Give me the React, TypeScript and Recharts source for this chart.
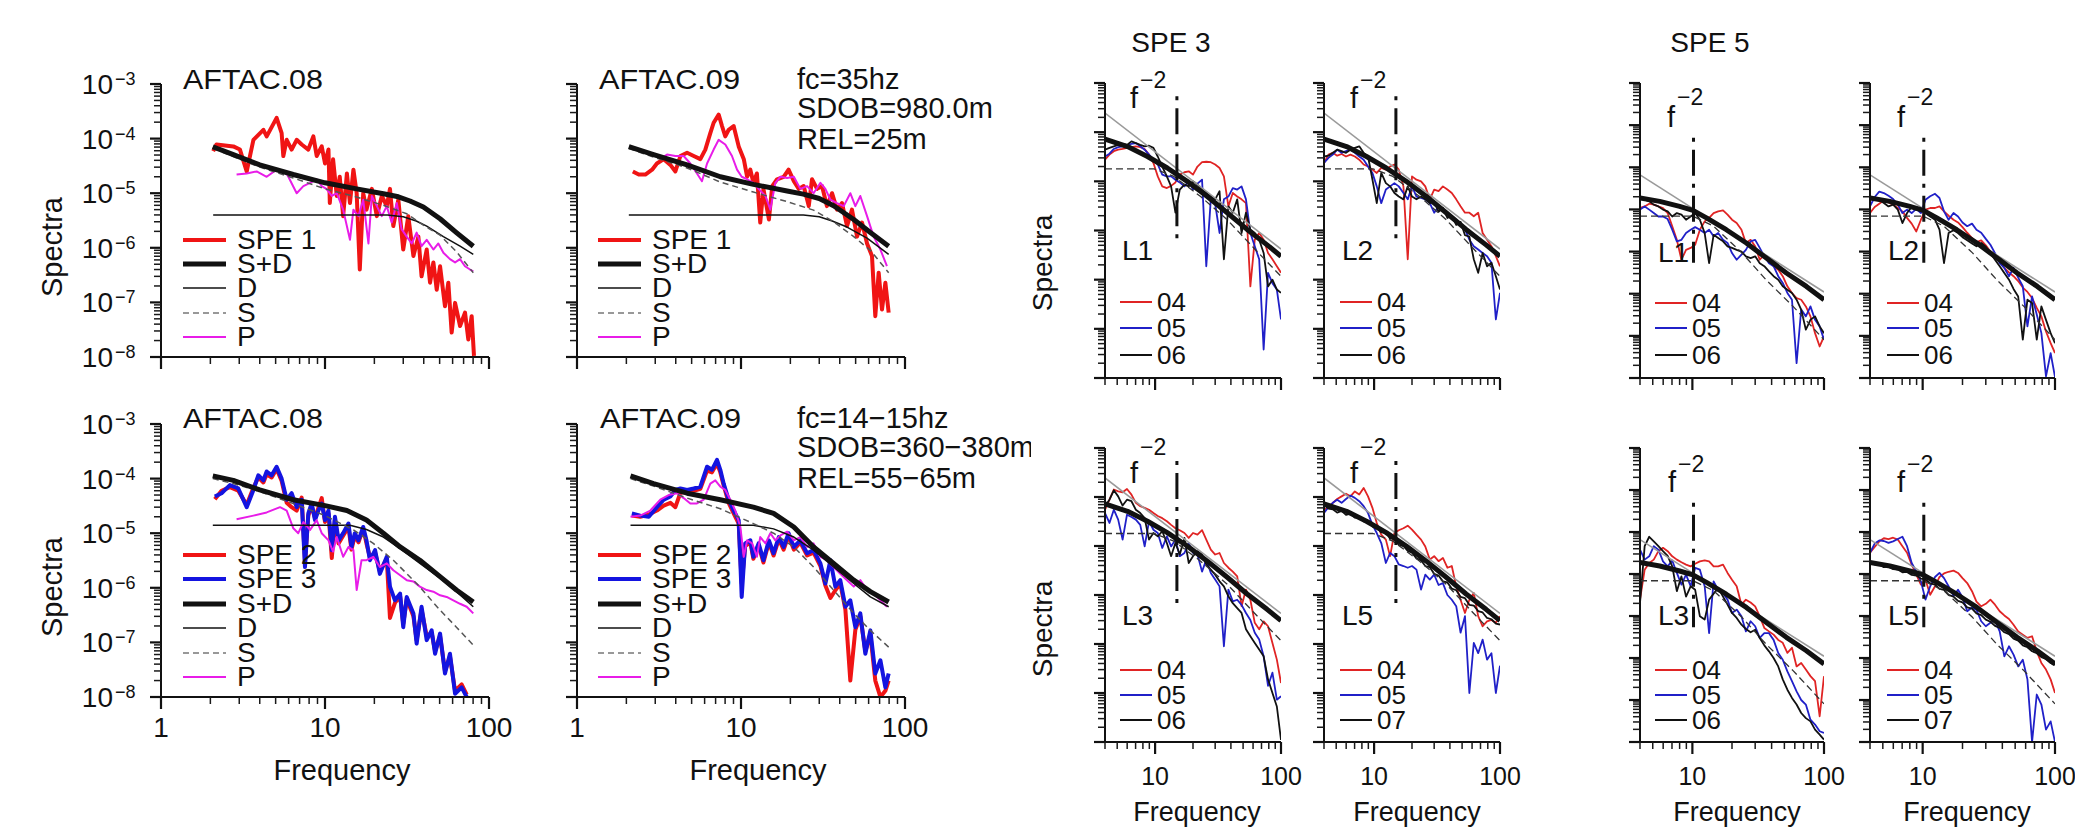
import React from 'react';
import { LineChart, Line, XAxis, YAxis, ReferenceLine } from 'recharts';

type Pt = [number, number];
const FONT = "'Liberation Sans', Arial, Helvetica, sans-serif";

// ---------------- axis ticks ----------------
const LEFT_X_TICKS = [1, 10, 100];
const RIGHT_X_TICKS = [10, 100];
const LEFT_X_MINOR = [2, 3, 4, 5, 6, 7, 8, 9, 20, 30, 40, 50, 60, 70, 80, 90];
const RIGHT_X_MINOR = [4, 5, 6, 7, 8, 9, 20, 30, 40, 50, 60, 70, 80, 90];
const LEFT_Y_DECADES = [1e-8, 1e-7, 1e-6, 1e-5, 1e-4, 1e-3];
const SPE3_Y_DECADES = [1e-9, 1e-8, 1e-7, 1e-6, 1e-5, 1e-4, 1e-3];
const SPE5_Y_DECADES = [1e-10, 1e-9, 1e-8, 1e-7, 1e-6, 1e-5, 1e-4, 1e-3];
const MINOR_MULT = [2, 3, 4, 5, 6, 7, 8, 9];

// ---------------- left panels: SPE 1 (AFTAC.08) ----------------
const A_SPE1: Pt[] = [[2.08,5.9e-5],[2.18,7.8e-5],[2.76,7.2e-5],[3.03,6.3e-5],[3.33,2.5e-5],[3.66,9.5e-5],[4.21,1.45e-4],[4.41,1.1e-4],[5.07,2.4e-4],[5.44,1.26e-4],[5.57,4.8e-5],[5.84,9.5e-5],[6.26,6.3e-5],[6.72,9.5e-5],[7.21,7.8e-5],[7.91,6.3e-5],[8.49,1.1e-4],[8.9,4.8e-5],[9.55,7.2e-5],[10.0,3.5e-5],[10.5,6.3e-5],[10.7,6.6e-6],[11.2,4.2e-5],[11.8,8.9e-6],[12.3,2.0e-5],[12.9,3.8e-6],[13.6,2.3e-5],[14.2,6.6e-6],[14.9,2.7e-5],[15.6,1.0e-5],[16.3,4.0e-7],[17.1,1.0e-5],[17.9,5.0e-6],[19.3,1.2e-5],[20.7,3.8e-6],[22.2,8.9e-6],[23.8,5.8e-6],[24.9,1.2e-5],[26.1,2.5e-6],[28.0,7.6e-6],[30.0,9.3e-7],[32.2,3.8e-6],[34.6,7.1e-7],[37.1,1.6e-6],[38.8,3.0e-7],[41.7,9.3e-7],[43.7,2.3e-7],[45.8,5.4e-7],[48.0,1.7e-7],[50.3,4.6e-7],[53.9,8.5e-8],[56.5,2.3e-7],[59.2,2.8e-8],[62.1,9.8e-8],[66.6,3.7e-8],[71.4,6.5e-8],[74.8,2.1e-8],[78.4,5.6e-8],[81.0,1.05e-8]];
const A_P: Pt[] = [[2.89,2.2e-5],[3.33,2.3e-5],[3.83,2.5e-5],[4.41,2.0e-5],[5.07,2.7e-5],[5.84,2.3e-5],[6.72,1.0e-5],[7.38,1.35e-5],[8.11,1.55e-5],[8.9,1.8e-5],[9.55,1.35e-5],[10.2,1.2e-5],[11.0,8.9e-6],[11.8,1.0e-5],[12.9,5.0e-6],[14.2,1.4e-6],[14.9,5.0e-6],[16.0,3.8e-6],[17.1,7.6e-6],[18.4,1.2e-6],[19.3,8.9e-6],[20.7,5.8e-6],[22.2,3.8e-6],[23.8,5.8e-6],[25.5,2.9e-6],[27.4,6.6e-6],[29.3,2.2e-6],[31.5,1.6e-6],[33.8,1.2e-6],[36.2,1.9e-6],[38.8,1.07e-6],[41.7,1.4e-6],[45.8,9.3e-7],[49.1,1.2e-6],[52.7,8.1e-7],[57.8,6.2e-7],[62.1,5.4e-7],[66.6,6.2e-7],[71.4,4.6e-7],[76.6,4.0e-7],[80.2,3.7e-7]];
const A_SD: Pt[] = [[2.07,7.1e-5],[2.76,5.1e-5],[4.0,3.3e-5],[6.4,2.2e-5],[10,1.55e-5],[15.6,1.2e-5],[22.7,9.8e-6],[28.0,8.6e-6],[33.0,7.2e-6],[39.8,5.6e-6],[50.3,3.4e-6],[63.3,1.9e-6],[80.2,1.07e-6]];
const A_D: Pt[] = [[2.08,4.0e-6],[24.0,4.0e-6],[30.0,3.7e-6],[36.0,3.1e-6],[41.7,2.5e-6],[52.7,1.6e-6],[66.6,1.07e-6],[80.2,7.6e-7]];
const A_S: Pt[] = [[2.07,6.6e-5],[2.76,4.7e-5],[4.0,3.0e-5],[6.4,1.9e-5],[10,1.2e-5],[15.6,8.5e-6],[22.7,6.0e-6],[31.5,4.2e-6],[39.8,2.6e-6],[50.3,1.7e-6],[63.3,8.5e-7],[80.2,3.5e-7]];

// ---------------- left panels: SPE 1 (AFTAC.09) ----------------
const B_SPE1: Pt[] = [[2.19,2.5e-5],[2.38,2.2e-5],[2.61,2.2e-5],[2.87,2.7e-5],[3.07,3.5e-5],[3.38,4.2e-5],[3.71,3.3e-5],[3.98,2.5e-5],[4.27,4.8e-5],[4.69,5.5e-5],[5.15,4.8e-5],[5.65,4.2e-5],[6.06,6.3e-5],[6.5,1.26e-4],[6.81,1.95e-4],[7.31,2.75e-4],[7.66,1.7e-4],[8.02,1.1e-4],[8.41,1.45e-4],[9.02,1.7e-4],[9.68,7.2e-5],[10.4,4.2e-5],[10.9,2.0e-5],[11.4,2.7e-5],[11.9,1.55e-5],[12.5,2.3e-5],[13.1,2.9e-6],[13.7,1.2e-5],[14.8,3.3e-6],[15.5,1.35e-5],[16.6,1.8e-5],[18.2,2.0e-5],[19.5,2.7e-5],[21.0,1.66e-5],[22.5,1.2e-5],[24.1,1.35e-5],[25.9,5.8e-6],[27.1,1.8e-5],[29.1,1.2e-5],[31.2,1.35e-5],[33.4,5.8e-6],[35.9,1.0e-5],[38.5,5.0e-6],[41.3,6.6e-6],[44.3,2.5e-6],[47.5,5.0e-6],[51.0,1.6e-6],[54.7,2.9e-6],[58.7,1.2e-6],[62.9,7.1e-7],[65.9,5.6e-8],[69.1,3.5e-7],[72.4,7.4e-8],[75.9,2.3e-7],[79.5,6.5e-8]];
const B_P: Pt[] = [[3.22,4.2e-5],[3.54,5.1e-5],[3.98,4.8e-5],[4.47,4.8e-5],[4.91,3.5e-5],[5.39,2.3e-5],[5.78,1.66e-5],[6.21,3.5e-5],[6.81,6.3e-5],[7.31,9.5e-5],[8.02,7.8e-5],[8.81,4.8e-5],[9.46,2.7e-5],[10.1,2.0e-5],[10.9,1.8e-5],[11.9,1.55e-5],[12.8,1.2e-5],[14.1,8.9e-6],[15.1,5.0e-6],[16.2,1.55e-5],[17.4,2.0e-5],[19.1,1.9e-5],[21.0,2.0e-5],[23.0,1.2e-5],[25.3,1.35e-5],[27.7,1.0e-5],[30.5,1.55e-5],[32.7,1.2e-5],[35.1,7.6e-6],[38.5,6.6e-6],[42.3,5.8e-6],[46.4,1.0e-5],[49.8,5.8e-6],[53.4,8.9e-6],[58.7,3.8e-6],[64.4,1.6e-6],[70.8,9.3e-7],[77.6,4.6e-7]];
const B_SD: Pt[] = [[2.07,7.1e-5],[2.93,5.1e-5],[4.69,3.3e-5],[7.48,2.0e-5],[11.9,1.45e-5],[19.1,1.1e-5],[24.0,9.6e-6],[30.0,8.0e-6],[36.7,5.9e-6],[48.7,3.3e-6],[61.5,1.9e-6],[79.5,1.07e-6]];
const B_D: Pt[] = [[2.07,4.0e-6],[24.0,4.0e-6],[30.0,3.7e-6],[36.0,3.1e-6],[44.3,2.4e-6],[58.7,1.5e-6],[79.5,7.6e-7]];
const B_S: Pt[] = [[2.07,6.6e-5],[2.93,4.6e-5],[4.69,2.9e-5],[7.48,1.6e-5],[11.9,1.05e-5],[19.1,7.0e-6],[27.7,4.9e-6],[36.7,3.0e-6],[48.7,1.6e-6],[61.5,9.0e-7],[79.5,3.5e-7]];

// ---------------- left panels: SPE 2 / SPE 3 (AFTAC.08) ----------------
const C_SPE2: Pt[] = [[2.13,4.2e-5],[2.34,6.0e-5],[2.63,7.0e-5],[2.96,6.0e-5],[3.33,3.3e-5],[3.66,6.8e-5],[3.92,1.05e-4],[4.21,8.5e-5],[4.41,1.2e-4],[4.73,1.05e-4],[5.07,1.5e-4],[5.44,9.0e-5],[5.84,3.6e-5],[6.26,3.0e-5],[6.72,2.6e-5],[7.21,4.5e-5],[7.55,3.0e-6],[7.91,2.1e-5],[8.29,3.2e-5],[8.69,1.9e-5],[9.11,2.9e-5],[9.55,4.4e-5],[10.0,1.6e-5],[10.5,2.3e-5],[11.0,3.5e-6],[11.5,1.8e-5],[12.1,6.5e-6],[12.9,9.0e-6],[13.9,1.3e-5],[14.5,5.0e-6],[15.2,9.0e-6],[16.0,6.8e-6],[17.1,1.2e-5],[17.9,6.5e-6],[18.8,3.6e-6],[20.2,4.4e-6],[21.6,2.0e-6],[23.8,3.4e-6],[24.9,2.8e-7],[26.7,5.3e-7],[28.7,7.0e-7],[30.0,2.2e-7],[31.5,6.2e-7],[34.6,3.0e-7],[36.2,1.1e-7],[38.8,4.0e-7],[41.7,1.3e-7],[44.7,1.5e-7],[46.9,7.0e-8],[50.3,1.3e-7],[53.9,3.0e-8],[57.8,5.5e-8],[62.1,1.3e-8],[68.1,1.7e-8],[73.1,1.1e-8]];
const C_SPE3: Pt[] = [[2.13,4.7e-5],[2.34,5.4e-5],[2.63,7.6e-5],[2.96,6.6e-5],[3.33,3.0e-5],[3.66,6.2e-5],[3.92,1.15e-4],[4.21,9.3e-5],[4.41,1.35e-4],[4.73,1.15e-4],[5.07,1.65e-4],[5.44,1.0e-4],[5.84,4.1e-5],[6.26,5.4e-5],[6.72,3.0e-5],[7.21,4.1e-5],[7.55,2.4e-6],[7.91,2.3e-5],[8.29,3.5e-5],[8.69,1.74e-5],[9.11,2.6e-5],[9.55,3.5e-5],[10.0,1.74e-5],[10.5,2.6e-5],[11.0,4.9e-6],[11.5,2.0e-5],[12.1,7.4e-6],[12.9,1.0e-5],[13.9,1.5e-5],[14.5,5.6e-6],[15.2,1.0e-5],[16.0,7.4e-6],[17.1,1.3e-5],[17.9,7.4e-6],[18.8,3.2e-6],[20.2,4.9e-6],[21.6,1.8e-6],[23.8,3.7e-6],[24.9,1.05e-6],[26.7,5.9e-7],[28.7,7.8e-7],[30.0,1.9e-7],[31.5,6.8e-7],[34.6,3.4e-7],[36.2,9.5e-8],[38.8,4.5e-7],[41.7,1.1e-7],[44.7,1.66e-7],[46.9,6.2e-8],[50.3,1.45e-7],[53.9,2.7e-8],[57.8,6.2e-8],[62.1,1.15e-8],[68.1,1.5e-8],[73.1,1.0e-8]];
const C_P: Pt[] = [[2.89,1.8e-5],[3.66,2.1e-5],[4.41,2.4e-5],[5.32,3.0e-5],[5.84,2.6e-5],[6.41,1.23e-5],[6.87,1.0e-5],[7.38,1.6e-5],[8.11,1.15e-5],[8.9,1.74e-5],[9.55,1.0e-5],[10.5,7.4e-6],[11.2,4.6e-6],[11.8,8.5e-6],[12.9,3.7e-6],[13.9,5.6e-6],[14.9,4.9e-6],[15.6,9.1e-7],[16.7,3.2e-6],[17.9,3.2e-6],[19.7,3.7e-6],[21.6,2.4e-6],[23.8,2.8e-6],[26.1,2.1e-6],[28.7,1.7e-6],[31.5,1.38e-6],[34.6,1.3e-6],[37.9,1.05e-6],[41.7,9.1e-7],[45.8,8.5e-7],[50.3,7.3e-7],[55.2,6.8e-7],[60.6,5.9e-7],[66.6,5.1e-7],[73.1,4.5e-7],[80.2,3.4e-7]];
const C_SD: Pt[] = [[2.07,1.12e-4],[2.76,9.3e-5],[4.0,6.2e-5],[6.4,4.1e-5],[10,3.2e-5],[13.6,2.6e-5],[17.9,1.74e-5],[22.7,1.0e-5],[28.7,5.6e-6],[37.9,3.2e-6],[50.3,1.6e-6],[63.3,9.1e-7],[80.2,5.5e-7]];
const C_D: Pt[] = [[2.07,1.4e-5],[14.2,1.4e-5],[17.9,1.17e-5],[22.7,8.5e-6],[28.7,5.2e-6],[37.9,2.8e-6],[50.3,1.5e-6],[63.3,8.5e-7],[80.2,4.5e-7]];
const C_S: Pt[] = [[2.07,1.0e-4],[2.76,8.1e-5],[4.0,5.8e-5],[6.4,3.5e-5],[10,2.1e-5],[14.9,1.15e-5],[19.7,6.5e-6],[26.1,3.2e-6],[36.2,1.2e-6],[50.3,3.9e-7],[63.3,1.9e-7],[80.2,8.9e-8]];

// ---------------- left panels: SPE 2 / SPE 3 (AFTAC.09) ----------------
const D_SPE2: Pt[] = [[2.16,2.1e-5],[2.43,2.0e-5],[2.74,2.2e-5],[3.07,2.6e-5],[3.38,3.2e-5],[3.71,3.6e-5],[3.98,3.0e-5],[4.27,5.5e-5],[4.69,5.8e-5],[5.15,6.0e-5],[5.65,6.5e-5],[6.21,1.4e-4],[6.65,1.3e-4],[7.14,1.9e-4],[7.48,1.3e-4],[7.84,7.5e-5],[8.41,3.6e-5],[9.02,2.3e-5],[9.68,1.5e-5],[10.1,1.2e-6],[10.6,5.8e-6],[11.4,6.8e-6],[11.9,3.4e-6],[12.8,6.0e-6],[13.7,2.9e-6],[14.8,6.8e-6],[15.8,3.9e-6],[17.0,7.8e-6],[18.2,5.0e-6],[19.5,9.0e-6],[21.0,5.0e-6],[23.0,6.8e-6],[25.3,3.9e-6],[27.7,4.4e-6],[30.5,2.5e-6],[32.7,1.1e-6],[35.1,6.5e-7],[37.6,9.0e-7],[40.3,1.2e-6],[43.3,4.0e-7],[46.4,2.0e-8],[49.8,1.7e-7],[53.4,3.0e-7],[57.3,7.0e-8],[61.5,1.4e-7],[65.9,2.0e-8],[70.8,1.0e-8],[75.9,1.3e-8],[79.5,2.0e-8]];
const D_SPE3: Pt[] = [[2.16,2.3e-5],[2.43,2.1e-5],[2.74,2.0e-5],[3.07,3.0e-5],[3.38,4.1e-5],[3.71,4.7e-5],[3.98,6.2e-5],[4.27,6.6e-5],[4.69,6.2e-5],[5.15,6.6e-5],[5.65,7.1e-5],[6.21,1.65e-4],[6.65,1.45e-4],[7.14,2.2e-4],[7.48,1.45e-4],[7.84,8.1e-5],[8.41,4.1e-5],[9.02,2.6e-5],[9.68,1.74e-5],[10.1,6.8e-7],[10.6,6.5e-6],[11.4,7.4e-6],[11.9,3.7e-6],[12.8,6.5e-6],[13.7,3.2e-6],[14.8,7.4e-6],[15.8,4.3e-6],[17.0,8.5e-6],[18.2,5.6e-6],[19.5,1.0e-5],[21.0,5.6e-6],[23.0,7.4e-6],[25.3,4.3e-6],[27.7,4.9e-6],[30.5,2.8e-6],[32.7,1.2e-6],[35.1,3.2e-6],[37.6,1.05e-6],[40.3,1.38e-6],[43.3,4.5e-7],[46.4,5.9e-7],[49.8,1.9e-7],[53.4,3.4e-7],[57.3,6.2e-8],[61.5,1.66e-7],[65.9,2.7e-8],[70.8,4.7e-8],[75.9,1.5e-8],[79.5,2.7e-8]];
const D_P: Pt[] = [[2.12,2.0e-5],[2.43,2.1e-5],[2.8,2.6e-5],[3.22,4.1e-5],[3.62,5.0e-5],[4.07,5.4e-5],[4.47,4.4e-5],[4.91,3.5e-5],[5.39,3.5e-5],[5.92,4.1e-5],[6.5,8.1e-5],[6.97,9.3e-5],[7.48,7.1e-5],[8.02,6.2e-5],[8.61,4.1e-5],[9.23,2.6e-5],[9.91,1.3e-5],[10.4,3.7e-6],[10.9,7.4e-6],[11.7,6.5e-6],[12.5,3.7e-6],[13.1,8.5e-6],[14.1,6.5e-6],[15.1,1.0e-5],[16.2,7.4e-6],[17.4,9.1e-6],[19.1,1.07e-5],[21.0,7.4e-6],[23.0,8.5e-6],[25.3,5.6e-6],[27.7,6.5e-6],[30.5,3.7e-6],[33.4,3.2e-6],[36.7,2.4e-6],[40.3,1.8e-6],[44.3,1.38e-6],[48.7,1.05e-6],[53.4,1.38e-6],[58.7,9.1e-7],[64.4,7.8e-7],[70.8,5.9e-7],[77.6,4.5e-7]];
const D_SD: Pt[] = [[2.12,1.12e-4],[2.93,8.1e-5],[4.69,5.4e-5],[7.48,4.1e-5],[11.9,3.0e-5],[15.8,2.3e-5],[21.0,1.3e-5],[27.7,5.6e-6],[36.7,2.8e-6],[48.7,1.38e-6],[61.5,8.5e-7],[79.5,5.5e-7]];
const D_D: Pt[] = [[2.12,1.4e-5],[11.9,1.4e-5],[15.8,1.2e-5],[21.0,8.5e-6],[27.7,4.9e-6],[36.7,2.4e-6],[48.7,1.2e-6],[61.5,6.8e-7],[79.5,4.5e-7]];
const D_S: Pt[] = [[2.12,1.0e-4],[2.93,7.3e-5],[4.69,4.4e-5],[7.48,2.8e-5],[11.9,1.5e-5],[15.8,1.0e-5],[21.0,5.6e-6],[27.7,2.4e-6],[36.7,9.1e-7],[48.7,3.4e-7],[61.5,1.66e-7],[79.5,8.2e-8]];

// ---------------- right panels: station spectra (frequency grid shared) ----------------
const GRID_F = [4.0,4.34,4.7,5.09,5.52,5.98,6.49,7.03,7.62,8.26,8.95,9.7,10.5,11.4,12.4,13.4,14.5,15.7,17.1,18.5,20.0,21.7,23.6,25.5,27.7,30.0,32.5,35.2,38.2,41.4,44.9,48.6,52.7,57.1,61.9,67.1,72.8,78.9,85.5,92.7,100];

// SPE 3, L1
const E_04 = [2.76e-5,3.5e-5,4.1e-5,4.4e-5,4.55e-5,4.8e-5,4.95e-5,5.15e-5,4.95e-5,4.55e-5,3.5e-5,2.36e-5,1.26e-5,7.9e-6,7.3e-6,8.1e-6,9.5e-6,1.37e-5,1.53e-5,1.6e-5,1.37e-5,2.0e-5,2.45e-5,2.5e-5,2.45e-5,2.2e-5,1.87e-5,1.26e-5,3.1e-6,5.8e-6,4.9e-6,4.3e-6,3.6e-6,7.3e-8,6.5e-7,8.9e-7,6.5e-7,3.5e-7,2.6e-7,1.87e-7,1.38e-7];
const E_05 = [3.2e-5,3.65e-5,4.55e-5,4.95e-5,5.15e-5,5.3e-5,5.8e-5,6.0e-5,5.15e-5,4.4e-5,3.5e-5,2.76e-5,2.2e-5,1.37e-5,1.26e-5,1.26e-5,1.08e-5,9.5e-6,7.9e-6,1.0e-5,6.8e-6,9.0e-6,1.08e-5,1.87e-7,4.3e-6,3.5e-6,8.9e-7,4.3e-6,4.9e-6,7.3e-6,6.8e-6,7.9e-6,4.3e-6,8.9e-7,4.8e-7,2.6e-7,3.8e-9,1.38e-7,8.5e-8,6.3e-8,1.55e-8];
const E_06 = [4.4e-5,4.8e-5,5.15e-5,5.5e-5,5.8e-5,5.5e-5,6.5e-5,6.0e-5,5.5e-5,5.15e-5,5.3e-5,4.8e-5,3.2e-5,2.0e-5,1.26e-5,7.9e-6,2.3e-6,6.8e-6,8.6e-6,7.9e-6,1.0e-5,8.6e-6,6.8e-6,5.8e-6,4.9e-6,4.3e-6,6.3e-6,2.6e-7,3.1e-6,2.3e-6,4.3e-6,8.9e-7,2.3e-6,1.05e-6,8.9e-7,6.5e-7,3.5e-7,7.3e-8,1.0e-7,6.3e-8,5.4e-8];
// SPE 3, L2
const F_04 = [2.36e-5,3.5e-5,3.8e-5,3.33e-5,3.6e-5,3.2e-5,3.5e-5,3.2e-5,2.76e-5,2.2e-5,2.0e-5,1.73e-5,1.48e-5,1.87e-5,1.73e-5,2.0e-5,2.2e-5,1.73e-5,7.9e-6,2.6e-7,1.26e-5,1.08e-5,1.0e-5,7.9e-6,4.3e-6,6.8e-6,6.3e-6,7.9e-6,6.8e-6,5.8e-6,4.3e-6,3.1e-6,2.3e-6,2.3e-6,1.95e-6,2.3e-6,8.9e-7,6.5e-7,4.8e-7,3.0e-7,1.87e-7];
const F_05 = [2.36e-5,3.0e-5,3.5e-5,4.4e-5,3.8e-5,4.1e-5,4.4e-5,3.8e-5,3.2e-5,2.76e-5,2.0e-5,1.48e-5,7.9e-6,3.6e-6,6.8e-6,7.9e-6,9.2e-6,7.9e-6,5.8e-6,4.3e-6,7.9e-6,4.9e-6,4.6e-6,4.3e-6,3.6e-6,2.3e-6,3.1e-6,2.65e-6,2.3e-6,1.95e-6,1.66e-6,1.4e-6,1.05e-6,6.5e-7,4.8e-7,4.1e-7,3.5e-7,3.0e-7,2.2e-7,1.55e-8,5.4e-8];
const F_06 = [3.2e-5,3.33e-5,3.8e-5,4.4e-5,4.1e-5,3.8e-5,4.4e-5,4.8e-5,5.15e-5,3.8e-5,3.2e-5,1.08e-5,3.6e-6,1.48e-5,9.2e-6,7.9e-6,5.8e-6,4.9e-6,4.3e-6,7.9e-6,4.9e-6,4.3e-6,4.9e-6,4.3e-6,3.6e-6,3.9e-6,2.4e-6,2.9e-6,1.8e-6,2.0e-6,1.3e-6,1.5e-6,8.0e-7,7.5e-7,2.6e-7,1.38e-7,3.5e-7,1.87e-7,2.2e-7,1.17e-7,6.3e-8];
// SPE 3, L3
const I_04 = [5.5e-5,8.8e-5,1.42e-4,1.3e-4,1.25e-4,1.46e-4,1.12e-4,7.6e-5,6.5e-5,6.0e-5,5.5e-5,4.7e-5,4.1e-5,3.7e-5,3.2e-5,2.7e-5,2.3e-5,2.1e-5,1.84e-5,1.46e-5,1.84e-5,1.7e-5,2.1e-5,1.35e-5,8.4e-6,6.7e-6,7.2e-6,4.5e-6,3.6e-6,3.0e-6,2.4e-6,5.9e-7,1.29e-6,8.0e-7,2.7e-7,2.0e-7,2.9e-7,2.3e-7,1.05e-7,4.8e-8,1.6e-8];
const I_05 = [4.7e-5,2.95e-5,5.5e-5,3.45e-5,1.35e-5,4.35e-5,3.9e-5,3.45e-5,2.7e-5,9.8e-6,3.2e-5,2.15e-5,1.84e-5,9.1e-6,1.57e-5,9.8e-6,1.35e-5,6.2e-6,7.2e-6,1.15e-5,7.2e-6,6.7e-6,3.0e-6,5.3e-6,2.8e-6,2.06e-6,1.5e-6,9.0e-8,1.29e-6,7.4e-7,8.0e-7,6.3e-7,4.3e-7,3.1e-7,1.7e-7,1.23e-7,5.6e-8,1.4e-8,2.6e-8,7.3e-9,8.6e-9];
const I_06 = [6.5e-5,8.8e-5,1.37e-4,1.03e-4,6.7e-5,8.8e-5,8.2e-5,5.5e-5,4.7e-5,3.7e-5,1.35e-5,1.84e-5,1.57e-5,2.0e-5,1.15e-5,6.2e-6,1.15e-5,6.7e-6,1.46e-5,4.5e-6,6.2e-6,7.8e-6,6.7e-6,4.2e-6,3.3e-6,2.6e-6,1.9e-6,1.5e-6,9.4e-7,6.8e-7,5.4e-7,4.3e-7,2.0e-7,1.44e-7,1.05e-7,7.7e-8,5.6e-8,1.9e-8,1.0e-8,5.3e-9,1.1e-9];
// SPE 3, L5
const J_04 = [5.5e-5,6.2e-5,7.6e-5,9.1e-5,1.03e-4,1.17e-4,1.03e-4,1.3e-4,1.12e-4,1.53e-4,1.03e-4,6.0e-5,2.95e-5,1.7e-5,1.35e-5,6.2e-6,1.84e-5,2.1e-5,2.3e-5,2.6e-5,2.15e-5,1.7e-5,1.35e-5,9.8e-6,5.3e-6,6.2e-6,4.9e-6,5.7e-6,3.6e-6,3.9e-6,1.5e-6,8.0e-7,4.3e-7,8.0e-7,1.1e-6,3.7e-7,2.3e-7,2.9e-7,3.1e-7,2.7e-7,3.7e-7];
const J_05 = [4.7e-5,6.2e-5,7.6e-5,8.8e-5,7.6e-5,9.1e-5,1.07e-4,9.6e-5,8.2e-5,6.5e-5,4.7e-5,2.7e-5,1.84e-5,1.15e-5,4.5e-6,7.2e-6,6.2e-6,4.2e-6,3.9e-6,3.6e-6,3.9e-6,3.3e-6,1.29e-6,2.6e-6,2.06e-6,2.6e-6,1.6e-6,1.75e-6,1.0e-6,8.0e-7,5.9e-7,1.7e-7,3.7e-7,1.0e-8,1.05e-7,6.5e-8,1.23e-7,4.8e-8,6.5e-8,1.0e-8,3.6e-8];
const J_07 = [6.8e-5,5.8e-5,5.6e-5,4.8e-5,5.2e-5,4.3e-5,4.6e-5,3.8e-5,3.9e-5,3.2e-5,3.1e-5,2.5e-5,2.4e-5,1.9e-5,1.9e-5,1.4e-5,1.45e-5,1.05e-5,1.0e-5,7.9e-6,7.3e-6,5.6e-6,5.1e-6,3.9e-6,3.7e-6,2.7e-6,2.5e-6,1.9e-6,1.8e-6,1.35e-6,1.25e-6,9.2e-7,8.6e-7,6.3e-7,6.1e-7,4.7e-7,4.4e-7,3.4e-7,3.2e-7,2.6e-7,2.5e-7];
// SPE 5, L1
const G_04 = [1.08e-6,1.18e-6,1.37e-6,1.3e-6,1.18e-6,1.08e-6,8.2e-7,4.0e-7,1.9e-7,6.4e-8,1.1e-7,1.22e-7,1.45e-7,3.3e-7,5.2e-7,6.3e-7,8.2e-7,9.0e-7,9.5e-7,7.5e-7,5.7e-7,4.75e-7,3.3e-7,1.6e-7,1.9e-7,1.33e-7,6.4e-8,8.5e-8,6.4e-8,4.5e-8,3.7e-8,2.6e-8,1.5e-8,1.04e-8,7.9e-9,7.2e-9,5.0e-9,2.9e-9,1.16e-9,5.6e-10,9.7e-10];
const G_05 = [9.9e-7,1.18e-6,9.9e-7,8.2e-7,6.8e-7,6.8e-7,5.9e-7,3.3e-7,1.75e-7,1.9e-7,2.75e-7,3.3e-7,3.8e-7,3.3e-7,2.75e-7,3.3e-7,2.3e-7,2.75e-7,1.9e-7,1.6e-7,9.2e-8,6.4e-8,8.5e-8,1.1e-7,1.75e-7,1.9e-7,1.22e-7,7.7e-8,5.3e-8,4.5e-8,2.6e-8,1.8e-8,1.04e-8,7.2e-9,2.26e-10,4.2e-9,2.9e-9,5.0e-9,2.4e-9,1.68e-9,8.1e-10];
const G_06 = [1.87e-6,1.7e-6,1.56e-6,1.3e-6,1.18e-6,9.9e-7,9.0e-7,6.8e-7,8.2e-7,7.5e-7,5.7e-7,6.8e-7,8.2e-7,5.7e-7,2.75e-7,5.3e-8,2.5e-7,2.1e-7,1.75e-7,1.33e-7,1.22e-7,1.1e-7,1.0e-7,7.7e-8,7.0e-8,7.7e-8,5.3e-8,4.5e-8,3.4e-8,2.6e-8,2.15e-8,1.5e-8,1.24e-8,1.04e-8,7.2e-9,4.2e-9,1.4e-9,2.4e-9,2.9e-9,1.68e-9,1.16e-9];
// SPE 5, L2
const H_04 = [8.2e-7,1.14e-6,1.37e-6,1.64e-6,1.46e-6,1.3e-6,1.08e-6,9.0e-7,6.3e-7,4.6e-7,3.0e-7,5.7e-7,9.9e-7,1.08e-6,1.08e-6,1.18e-6,9.0e-7,7.1e-7,5.7e-7,4.9e-7,3.8e-7,2.8e-7,2.1e-7,1.67e-7,1.85e-7,1.4e-7,1.0e-7,8.5e-8,6.0e-8,4.1e-8,3.2e-8,2.6e-8,2.0e-8,1.4e-8,1.1e-8,7.9e-9,4.6e-9,2.9e-9,1.27e-9,6.7e-10,3.9e-10];
const H_05 = [1.18e-6,1.97e-6,2.64e-6,2.45e-6,2.1e-6,1.77e-6,1.3e-6,8.2e-7,9.9e-7,8.2e-7,1.03e-6,8.2e-7,1.7e-6,2.05e-6,2.35e-6,1.87e-6,9.0e-7,5.7e-7,8.2e-7,6.8e-7,4.9e-7,4.0e-7,4.6e-7,3.3e-7,2.8e-7,2.0e-7,1.45e-7,9.2e-8,5.3e-8,4.1e-8,2.6e-8,4.1e-8,2.4e-8,1.5e-8,1.68e-9,8.6e-9,3.2e-9,1.16e-9,1.09e-10,3.9e-10,1.05e-10];
const H_06 = [1.7e-6,1.87e-6,1.7e-6,1.42e-6,1.18e-6,1.3e-6,9.9e-7,4.75e-7,8.2e-7,1.14e-6,9.9e-7,1.08e-6,8.2e-7,6.8e-7,5.7e-7,3.3e-7,5.3e-8,2.75e-7,3.2e-7,2.75e-7,2.2e-7,1.85e-7,1.55e-7,1.33e-7,1.6e-7,1.3e-7,9.2e-8,6.4e-8,4.5e-8,3.1e-8,2.15e-8,1.3e-8,8.6e-9,8.1e-10,7.2e-9,6.0e-9,8.1e-10,5.0e-9,2.4e-9,1.16e-9,6.7e-10];
// SPE 5, L3
const K_04 = [2.45e-7,1.27e-6,1.83e-6,2.2e-6,3.5e-6,4.2e-6,3.5e-6,2.64e-6,2.2e-6,1.9e-6,1.67e-6,1.52e-6,1.75e-6,2.0e-6,2.1e-6,2.0e-6,1.52e-6,1.52e-6,1.67e-6,1.06e-6,7.3e-7,5.1e-7,1.86e-7,2.45e-7,2.1e-7,1.7e-7,9.8e-8,5.2e-8,4.3e-8,3.6e-8,2.7e-8,2.3e-8,1.32e-8,1.75e-8,6.3e-9,7.6e-9,5.3e-9,3.7e-9,2.8e-9,4.1e-10,3.7e-9];
const K_05 = [3.8e-6,2.2e-6,2.64e-6,4.6e-6,3.8e-6,2.0e-6,1.52e-6,2.1e-6,1.06e-6,5.6e-7,9.7e-7,5.1e-7,1.4e-6,1.27e-6,5.1e-7,3.9e-8,6.7e-7,4.2e-7,3.5e-7,2.45e-7,1.18e-7,1.42e-7,9.8e-8,4.3e-8,7.5e-8,5.7e-8,3.0e-8,3.9e-8,3.9e-8,2.7e-8,1.32e-8,9.1e-9,4.8e-9,2.8e-9,1.6e-9,1.0e-9,7.8e-10,3.4e-10,2.6e-10,1.8e-10,1.64e-10];
const K_06 = [2.05e-7,4.6e-6,7.7e-6,6.0e-6,4.6e-6,3.5e-6,2.7e-6,1.52e-6,3.9e-7,8.8e-7,2.9e-7,5.1e-7,4.2e-7,9.8e-8,8.2e-8,2.45e-7,3.4e-7,4.6e-7,2.9e-7,1.86e-7,1.18e-7,9.0e-8,6.2e-8,4.9e-8,4.1e-8,4.7e-8,3.0e-8,2.0e-8,1.44e-8,1.0e-8,6.3e-9,3.1e-9,1.76e-9,1.12e-9,7.8e-10,4.9e-10,3.7e-10,3.1e-10,1.97e-10,1.5e-10,1.14e-10];
// SPE 5, L5
const L_04 = [3.2e-6,4.4e-6,6.0e-6,7.1e-6,6.8e-6,7.3e-6,6.6e-6,4.6e-6,3.2e-6,1.67e-6,9.7e-7,5.6e-7,7.3e-7,3.2e-7,5.1e-7,8.5e-7,1.03e-6,1.13e-6,1.2e-6,1.06e-6,8.0e-7,6.1e-7,3.9e-7,2.2e-7,1.7e-7,1.95e-7,2.45e-7,1.86e-7,1.3e-7,1.03e-7,8.5e-8,6.2e-8,4.3e-8,3.6e-8,3.0e-8,3.3e-8,1.44e-8,7.6e-9,5.3e-9,3.1e-9,1.47e-9];
const L_05 = [3.2e-6,5.3e-6,6.3e-6,6.1e-6,5.5e-6,6.0e-6,6.8e-6,7.7e-6,4.6e-6,1.83e-6,1.15e-6,6.7e-7,2.45e-7,5.1e-7,8.5e-7,1.06e-6,8.0e-7,5.1e-7,3.0e-7,4.2e-7,2.8e-7,1.3e-7,1.6e-7,1.4e-7,7.5e-8,5.7e-8,6.9e-8,7.9e-8,4.3e-8,1.1e-8,1.9e-8,1.2e-8,6.3e-9,9.1e-9,3.1e-9,1.0e-10,1.35e-9,7.8e-10,1.97e-10,3.1e-10,1.0e-10];
const L_07 = [1.9e-6,1.7e-6,1.75e-6,1.45e-6,1.5e-6,1.3e-6,1.28e-6,1.1e-6,1.12e-6,9.5e-7,9.2e-7,7.8e-7,7.4e-7,6.0e-7,5.6e-7,4.4e-7,4.2e-7,3.2e-7,2.9e-7,2.3e-7,2.1e-7,1.6e-7,1.5e-7,1.15e-7,1.05e-7,8.2e-8,7.3e-8,5.8e-8,5.2e-8,4.1e-8,3.7e-8,2.9e-8,2.6e-8,2.0e-8,1.8e-8,1.45e-8,1.3e-8,1.05e-8,9.5e-9,7.6e-9,6.8e-9];

// ---------------- right panels: model curves ----------------
const SPE3_F2: Pt[] = [[4, 2.45e-4], [100, 4.2e-7]];
const SPE3_SD: Pt[] = [[4,7.2e-5],[6.04,5.1e-5],[8.7,3.2e-5],[12.5,1.87e-5],[18.0,1.0e-5],[26.0,4.9e-6],[37.4,2.3e-6],[53.8,1.05e-6],[77.5,5.1e-7],[100,3.0e-7]];
const SPE3_DASH: Pt[] = [[4,1.8e-5],[9.8,1.8e-5],[14.1,1.26e-5],[23.0,4.9e-6],[37.4,1.66e-6],[60.8,4.4e-7],[100,1.17e-7]];
const SPE5_F2: Pt[] = [[4, 6.6e-6], [100, 1.1e-8]];
const SPE5_SD: Pt[] = [[4,1.87e-6],[5.65,1.55e-6],[8.0,1.18e-6],[10.1,9.5e-7],[12.8,6.3e-7],[18.1,3.3e-7],[25.7,1.6e-7],[36.5,7.0e-8],[51.8,3.1e-8],[73.5,1.49e-8],[100,7.2e-9]];
const SPE5_DASH: Pt[] = [[4,6.9e-7],[10.1,6.9e-7],[14.5,4.0e-7],[23.8,9.3e-8],[36.5,2.1e-8],[58.2,5.0e-9],[100,8.1e-10]];
const SPE3_CORNER = { f: 14.9, top: 5.4e-4, bottom: 5.6e-7 };
const SPE5_CORNER = { f: 10.2, top: 5.0e-5, bottom: 5.4e-8 };

// ---------------- styles ----------------
const RED = '#f01414';
const BLUE = '#1414e0';
const MAG = '#e81ce8';
const BLK = '#111111';
const RRED = '#e02424';
const RBLUE = '#2020c8';

type Series = { pts: Pt[]; color: string; width: number; dash?: string };
type Cfg = {
  left: number; top: number; w: number; h: number;
  xDomain: [number, number]; yDomain: [number, number];
  xTicks: number[]; yTicks: number[]; xMinor: number[];
  yLabels: boolean; xLabels: 'left' | 'right' | null;
  series: Series[];
  corner?: { f: number; top: number; bottom: number };
  padL: number;
};

const grid = (vals: number[]): Pt[] => GRID_F.map((f, i) => [f, vals[i]] as Pt);
const lg = (v: number) => Math.log(v) / Math.LN10;

const makeYTick = (labels: boolean) => (p: any) => {
  const { x, y, payload } = p;
  const v = payload.value as number;
  const e = Math.round(-lg(v));
  return (
    <g>
      <line x1={x} y1={y} x2={x - 11} y2={y} stroke={BLK} strokeWidth={2.2} />
      {labels ? (
        <g fontFamily={FONT} fill={BLK}>
          <text x={x - 48} y={y + 10} textAnchor="end" fontSize={28}>10</text>
          <text x={x - 46} y={y + 1} fontSize={18}>{'\u2212' + e}</text>
        </g>
      ) : null}
    </g>
  );
};

const makeXTick = (mode: 'left' | 'right' | null) => (p: any) => {
  const { x, y, payload } = p;
  const v = payload.value as number;
  const fs = mode === 'left' ? 28 : 25;
  const dy = mode === 'left' ? 40 : 43;
  return (
    <g>
      <line x1={x} y1={y} x2={x} y2={y + 12} stroke={BLK} strokeWidth={2.2} />
      {mode ? (
        <text x={x} y={y + dy} textAnchor="middle" fontSize={fs} fontFamily={FONT} fill={BLK}>{String(v)}</text>
      ) : null}
    </g>
  );
};

function Panel({ cfg }: { cfg: Cfg }) {
  const L = cfg.padL, T = 20, R = 32;
  const B = cfg.xLabels ? 60 : 24;
  return (
    <div style={{ position: 'absolute', left: cfg.left - L, top: cfg.top - T }}>
      <LineChart width={cfg.w + L + R} height={cfg.h + T + B} margin={{ top: T, right: R, left: 0, bottom: 0 }}>
        <XAxis
          dataKey="f" type="number" scale="log" domain={cfg.xDomain} ticks={cfg.xTicks}
          allowDataOverflow interval={0} height={B} tickSize={0} tickMargin={0}
          axisLine={{ stroke: BLK, strokeWidth: 2 }} tickLine={false}
          tick={makeXTick(cfg.xLabels)}
        />
        <YAxis
          type="number" scale="log" domain={cfg.yDomain} ticks={cfg.yTicks}
          allowDataOverflow interval={0} width={L} tickSize={0} tickMargin={0}
          axisLine={{ stroke: BLK, strokeWidth: 2 }} tickLine={false}
          tick={makeYTick(cfg.yLabels)}
        />
        {cfg.series.map((s, i) => (
          <Line
            key={i} data={s.pts.map(([f, v]) => ({ f, v }))} dataKey="v" type="linear"
            stroke={s.color} strokeWidth={s.width} strokeDasharray={s.dash} dot={false}
            activeDot={false} isAnimationActive={false} strokeLinejoin="round"
          />
        ))}
        {cfg.corner ? (
          <ReferenceLine
            segment={[{ x: cfg.corner.f, y: cfg.corner.top }, { x: cfg.corner.f, y: cfg.corner.bottom }]}
            stroke={BLK} strokeWidth={3} strokeDasharray="4 8 26 8"
          />
        ) : null}
      </LineChart>
    </div>
  );
}

// minor (2..9) log ticks for one panel, placed on the same log mapping as the panel's axes
function MinorTicks({ cfg }: { cfg: Cfg }) {
  const [x0, x1] = cfg.xDomain;
  const [y0, y1] = cfg.yDomain;
  const bottom = cfg.top + cfg.h;
  const xs = cfg.xMinor.map((v) => cfg.left + ((lg(v) - lg(x0)) / (lg(x1) - lg(x0))) * cfg.w);
  const yVals: number[] = [];
  cfg.yTicks.forEach((d) => {
    if (d < y1 * 0.999) MINOR_MULT.forEach((m) => yVals.push(d * m));
  });
  const ys = yVals.map((v) => bottom - ((lg(v) - lg(y0)) / (lg(y1) - lg(y0))) * cfg.h);
  return (
    <g stroke="#1a1a1a" strokeWidth={1.5}>
      {xs.map((x, i) => <line key={'x' + i} x1={x} x2={x} y1={bottom} y2={bottom + 7} />)}
      {ys.map((y, i) => <line key={'y' + i} x1={cfg.left} x2={cfg.left - 7} y1={y} y2={y} />)}
    </g>
  );
}

const leftSeries = (red: Pt[] | null, blue: Pt[] | null, p: Pt[], sd: Pt[], d: Pt[], s: Pt[]): Series[] => {
  const out: Series[] = [];
  if (red) out.push({ pts: red, color: RED, width: 4 });
  if (blue) out.push({ pts: blue, color: BLUE, width: 4 });
  out.push({ pts: p, color: MAG, width: 2 });
  out.push({ pts: d, color: BLK, width: 1.5 });
  out.push({ pts: s, color: '#555', width: 1.5, dash: '6 4' });
  out.push({ pts: sd, color: BLK, width: 5 });
  return out;
};

const rightSeries = (r: number[], b: number[], k: number[], spe5: boolean): Series[] => [
  { pts: grid(r), color: RRED, width: 1.8 },
  { pts: grid(b), color: RBLUE, width: 1.8 },
  { pts: grid(k), color: BLK, width: 1.8 },
  { pts: spe5 ? SPE5_F2 : SPE3_F2, color: '#9a9a9a', width: 1.6 },
  { pts: spe5 ? SPE5_DASH : SPE3_DASH, color: '#333', width: 1.3, dash: '7 4' },
  { pts: spe5 ? SPE5_SD : SPE3_SD, color: BLK, width: 5 },
];

const leftBase = { w: 328, h: 273, xDomain: [1, 100] as [number, number], yDomain: [1e-8, 1e-3] as [number, number], xTicks: LEFT_X_TICKS, xMinor: LEFT_X_MINOR, yTicks: LEFT_Y_DECADES, padL: 100 };
const s3Base = { xDomain: [4, 100] as [number, number], yDomain: [1e-9, 1e-3] as [number, number], xTicks: RIGHT_X_TICKS, xMinor: RIGHT_X_MINOR, yTicks: SPE3_Y_DECADES, yLabels: false, padL: 30, corner: SPE3_CORNER };
const s5Base = { xDomain: [4, 100] as [number, number], yDomain: [1e-10, 1e-3] as [number, number], xTicks: RIGHT_X_TICKS, xMinor: RIGHT_X_MINOR, yTicks: SPE5_Y_DECADES, yLabels: false, padL: 30, corner: SPE5_CORNER };

const PANELS: Cfg[] = [
  { ...leftBase, left: 161, top: 84, yLabels: true, xLabels: null, series: leftSeries(A_SPE1, null, A_P, A_SD, A_D, A_S) },
  { ...leftBase, left: 577, top: 84, yLabels: false, xLabels: null, series: leftSeries(B_SPE1, null, B_P, B_SD, B_D, B_S) },
  { ...leftBase, left: 161, top: 424, yLabels: true, xLabels: 'left', series: leftSeries(C_SPE2, C_SPE3, C_P, C_SD, C_D, C_S) },
  { ...leftBase, left: 577, top: 424, yLabels: false, xLabels: 'left', series: leftSeries(D_SPE2, D_SPE3, D_P, D_SD, D_D, D_S) },
  { ...s3Base, left: 1105, top: 83, w: 176, h: 295, xLabels: null, series: rightSeries(E_04, E_05, E_06, false) },
  { ...s3Base, left: 1324, top: 83, w: 176, h: 295, xLabels: null, series: rightSeries(F_04, F_05, F_06, false) },
  { ...s5Base, left: 1640, top: 83, w: 184, h: 295, xLabels: null, series: rightSeries(G_04, G_05, G_06, true) },
  { ...s5Base, left: 1870, top: 83, w: 185, h: 295, xLabels: null, series: rightSeries(H_04, H_05, H_06, true) },
  { ...s3Base, left: 1105, top: 448, w: 176, h: 294, xLabels: 'right', series: rightSeries(I_04, I_05, I_06, false) },
  { ...s3Base, left: 1324, top: 448, w: 176, h: 294, xLabels: 'right', series: rightSeries(J_04, J_05, J_07, false) },
  { ...s5Base, left: 1640, top: 448, w: 184, h: 294, xLabels: 'right', series: rightSeries(K_04, K_05, K_06, true) },
  { ...s5Base, left: 1870, top: 448, w: 185, h: 294, xLabels: 'right', series: rightSeries(L_04, L_05, L_07, true) },
];

// ---------------- text overlay ----------------
const LEFT_LEGEND_1 = ['SPE 1', 'S+D', 'D', 'S', 'P'];
const LEFT_LEGEND_2 = ['SPE 2', 'SPE 3', 'S+D', 'D', 'S', 'P'];
const STATIONS_A = ['04', '05', '06'];
const STATIONS_B = ['04', '05', '07'];

const legendStyle: Record<string, { c: string; w: number; d?: string }> = {
  'SPE 1': { c: RED, w: 4 }, 'SPE 2': { c: RED, w: 4 }, 'SPE 3': { c: BLUE, w: 4 },
  'S+D': { c: BLK, w: 5 }, D: { c: BLK, w: 1.5 }, S: { c: '#777', w: 1.5, d: '6 4' }, P: { c: MAG, w: 2 },
};
const stationColor = [RRED, RBLUE, BLK];

function Txt(props: any) {
  return <text fontFamily={FONT} fill={BLK} {...props} />;
}

function LeftLegend({ x, ys, labels }: { x: number; ys: number[]; labels: string[] }) {
  return (
    <g>
      {labels.map((lb, i) => {
        const st = legendStyle[lb];
        return (
          <g key={lb + i}>
            <line x1={x} x2={x + 43} y1={ys[i]} y2={ys[i]} stroke={st.c} strokeWidth={st.w} strokeDasharray={st.d} />
            <Txt x={x + 54} y={ys[i] + 9} fontSize={28}>{lb}</Txt>
          </g>
        );
      })}
    </g>
  );
}

function StationLegend({ x, ys, labels }: { x: number; ys: number[]; labels: string[] }) {
  return (
    <g>
      {labels.map((lb, i) => (
        <g key={lb + i}>
          <line x1={x} x2={x + 32} y1={ys[i]} y2={ys[i]} stroke={stationColor[i]} strokeWidth={2} />
          <Txt x={x + 37} y={ys[i] + 9} fontSize={26}>{lb}</Txt>
        </g>
      ))}
    </g>
  );
}

function FExp({ x, y, dy }: { x: number; y: number; dy: number }) {
  return (
    <g>
      <Txt x={x} y={y} fontSize={29}>f</Txt>
      <Txt x={x + 10} y={y - dy} fontSize={23}>{'\u22122'}</Txt>
    </g>
  );
}

function Overlay() {
  const rot = (x: number, y: number, s: string, fs: number) => (
    <Txt x={x} y={y} fontSize={fs} textAnchor="middle" dominantBaseline="central" transform={`rotate(-90 ${x} ${y})`}>{s}</Txt>
  );
  return (
    <svg width={2075} height={828} style={{ position: 'absolute', left: 0, top: 0, pointerEvents: 'none' }}>
      <defs>
        <clipPath id="clipLeft"><rect x={0} y={0} width={1031} height={828} /></clipPath>
      </defs>
      {PANELS.map((c, i) => <MinorTicks key={i} cfg={c} />)}
      <Txt x={183} y={89} fontSize={28} textLength={140} lengthAdjust="spacingAndGlyphs">AFTAC.08</Txt>
      <Txt x={599} y={89} fontSize={28} textLength={141} lengthAdjust="spacingAndGlyphs">AFTAC.09</Txt>
      <Txt x={183} y={428} fontSize={28} textLength={140} lengthAdjust="spacingAndGlyphs">AFTAC.08</Txt>
      <Txt x={600} y={428} fontSize={28} textLength={141} lengthAdjust="spacingAndGlyphs">AFTAC.09</Txt>
      <Txt x={797} y={89} fontSize={29}>fc=35hz</Txt>
      <Txt x={797} y={118} fontSize={29}>SDOB=980.0m</Txt>
      <Txt x={797} y={149} fontSize={29}>REL=25m</Txt>
      <g clipPath="url(#clipLeft)">
        <Txt x={797} y={428} fontSize={29}>{'fc=14\u221215hz'}</Txt>
        <Txt x={797} y={457} fontSize={29}>{'SDOB=360\u2212380m'}</Txt>
        <Txt x={797} y={488} fontSize={29}>{'REL=55\u221265m'}</Txt>
      </g>
      {rot(52, 247, 'Spectra', 29)}
      {rot(52, 587, 'Spectra', 29)}
      <Txt x={342} y={780} fontSize={29} textAnchor="middle">Frequency</Txt>
      <Txt x={758} y={780} fontSize={29} textAnchor="middle">Frequency</Txt>
      <LeftLegend x={183} ys={[240, 264, 288, 313, 337]} labels={LEFT_LEGEND_1} />
      <LeftLegend x={598} ys={[240, 264, 288, 313, 337]} labels={LEFT_LEGEND_1} />
      <LeftLegend x={183} ys={[555, 579, 604, 628, 653, 677]} labels={LEFT_LEGEND_2} />
      <LeftLegend x={598} ys={[555, 579, 604, 628, 653, 677]} labels={LEFT_LEGEND_2} />

      <Txt x={1171} y={52} fontSize={28} textAnchor="middle">SPE 3</Txt>
      <Txt x={1710} y={52} fontSize={28} textAnchor="middle">SPE 5</Txt>
      {rot(1042, 263, 'Spectra', 28)}
      {rot(1042, 629, 'Spectra', 28)}
      <Txt x={1197} y={821} fontSize={27} textAnchor="middle">Frequency</Txt>
      <Txt x={1417} y={821} fontSize={27} textAnchor="middle">Frequency</Txt>
      <Txt x={1737} y={821} fontSize={27} textAnchor="middle">Frequency</Txt>
      <Txt x={1967} y={821} fontSize={27} textAnchor="middle">Frequency</Txt>
      <FExp x={1130} y={108} dy={20} />
      <FExp x={1350} y={108} dy={20} />
      <FExp x={1667} y={127} dy={22} />
      <FExp x={1897} y={127} dy={22} />
      <FExp x={1130} y={483} dy={28} />
      <FExp x={1350} y={483} dy={28} />
      <FExp x={1668} y={492} dy={20} />
      <FExp x={1897} y={492} dy={20} />
      <Txt x={1122} y={260} fontSize={28}>L1</Txt>
      <Txt x={1342} y={260} fontSize={28}>L2</Txt>
      <Txt x={1658} y={262} fontSize={28}>L1</Txt>
      <Txt x={1888} y={260} fontSize={28}>L2</Txt>
      <Txt x={1122} y={625} fontSize={28}>L3</Txt>
      <Txt x={1342} y={625} fontSize={28}>L5</Txt>
      <Txt x={1658} y={625} fontSize={28}>L3</Txt>
      <Txt x={1888} y={625} fontSize={28}>L5</Txt>
      <StationLegend x={1120} ys={[302, 328, 355]} labels={STATIONS_A} />
      <StationLegend x={1340} ys={[302, 328, 355]} labels={STATIONS_A} />
      <StationLegend x={1655} ys={[303, 328, 355]} labels={STATIONS_A} />
      <StationLegend x={1887} ys={[303, 328, 355]} labels={STATIONS_A} />
      <StationLegend x={1120} ys={[670, 695, 720]} labels={STATIONS_A} />
      <StationLegend x={1340} ys={[670, 695, 720]} labels={STATIONS_B} />
      <StationLegend x={1655} ys={[670, 695, 720]} labels={STATIONS_A} />
      <StationLegend x={1887} ys={[670, 695, 720]} labels={STATIONS_B} />
    </svg>
  );
}

export default function App() {
  return (
    <div style={{ position: 'absolute', left: 0, top: 0, width: 2075, height: 828, background: '#fff', overflow: 'hidden' }}>
      {PANELS.map((c, i) => (
        <Panel key={i} cfg={c} />
      ))}
      <Overlay />
    </div>
  );
}
